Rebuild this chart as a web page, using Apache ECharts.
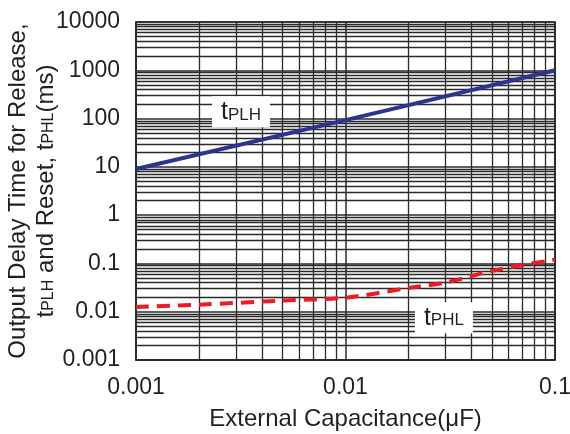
<!DOCTYPE html>
<html>
<head>
<meta charset="utf-8">
<script src="https://cdn.jsdelivr.net/npm/echarts@6/dist/echarts.min.js"></script>
<style>
  html, body { margin: 0; padding: 0; background: #fff; }
  #chart { width: 570px; height: 434px; }
</style>
</head>
<body>
<div id="chart"></div>
<script>
// values
var capacitance = [0.001, 0.01, 0.1];
var tPLH = [9, 93, 1000];

var capacitancePHL = [0.001, 0.002, 0.005, 0.01, 0.02, 0.03, 0.05, 0.1];
var tPHL = [0.0125, 0.014, 0.017, 0.0195, 0.031, 0.04, 0.07, 0.12];

var xTickLabels = ['0.001', '0.01', '0.1'];
var yTickLabels = ['0.001', '0.01', '0.1', '1', '10', '100', '1000', '10000'];

// log grid: decades and the 2..9 steps inside each one
var xDecades = [0.001, 0.01];
var yDecades = [0.001, 0.01, 0.1, 1, 10, 100, 1000];
var minorSteps = [2, 3, 4, 5, 6, 7, 8, 9];
var xRange = [0.001, 0.1];
var yRange = [0.001, 10000];

var font = 'Liberation Sans, Arial, sans-serif';
var ink = '#231f20';
var gridInk = '#2a2a2a';

function pairs(xs, ys) {
    var out = [];
    for (var i = 0; i < xs.length; i++) {
        out.push([xs[i], ys[i]]);
    }
    return out;
}

// minor grid lines as segments across the whole plot
function minorLines() {
    var lines = [];
    xDecades.forEach(function (d) {
        minorSteps.forEach(function (m) {
            var x = +(d * m).toPrecision(3);
            lines.push({ coords: [[x, yRange[0]], [x, yRange[1]]] });
        });
    });
    yDecades.forEach(function (d) {
        minorSteps.forEach(function (m) {
            var y = +(d * m).toPrecision(3);
            lines.push({ coords: [[xRange[0], y], [xRange[1], y]] });
        });
    });
    return lines;
}

function decadeLabel(labels, first) {
    return function (v) {
        var k = Math.round(Math.log10(v)) - first;
        return labels[k] || '';
    };
}

var subRich = {
    t: { fontSize: 25, fontFamily: font, color: ink },
    s: { fontSize: 17, fontFamily: font, color: ink, padding: [6, 0, 0, 0] }
};

var chart = echarts.init(document.getElementById('chart'));

chart.setOption({
    animation: false,
    backgroundColor: '#fff',
    grid: {
        left: 136, right: 15, top: 22, bottom: 74,
        outerBoundsMode: 'none',
        containLabel: false,
        show: true, borderColor: gridInk, borderWidth: 1.5
    },
    xAxis: {
        type: 'log', logBase: 10, min: xRange[0], max: xRange[1], interval: 1,
        axisLine: { show: true, lineStyle: { color: gridInk, width: 1.5 } },
        axisTick: { show: false },
        splitLine: { show: true, lineStyle: { color: gridInk, width: 1.5 } },
        axisLabel: {
            formatter: decadeLabel(xTickLabels, -3),
            fontSize: 23, fontFamily: font, color: ink, margin: 16
        },
        name: 'External Capacitance(\u03bcF)',
        nameLocation: 'middle', nameGap: 47, nameMoveOverlap: false,
        nameTextStyle: { fontSize: 24, fontFamily: font, color: ink }
    },
    yAxis: {
        type: 'log', logBase: 10, min: yRange[0], max: yRange[1], interval: 1,
        axisLine: { show: true, lineStyle: { color: gridInk, width: 1.5 } },
        axisTick: { show: false },
        splitLine: { show: true, lineStyle: { color: gridInk, width: 1.5 } },
        axisLabel: {
            formatter: decadeLabel(yTickLabels, -3),
            fontSize: 23, fontFamily: font, color: ink, margin: 16
        },
        name: '{n|Output Delay Time for Release,}\n{n|t}{s|PLH}{n| and Reset, t}{s|PHL}{n|(ms)}',
        nameLocation: 'middle', nameGap: 76, nameRotate: 90, nameMoveOverlap: false,
        nameTextStyle: {
            fontFamily: font, color: ink, lineHeight: 28,
            rich: {
                n: { fontSize: 24, fontFamily: font, color: ink, lineHeight: 28 },
                s: { fontSize: 16, fontFamily: font, color: ink, lineHeight: 28, padding: [6, 0, 0, 0] }
            }
        }
    },
    series: [
        {
            name: 'grid',
            type: 'lines',
            coordinateSystem: 'cartesian2d',
            silent: true,
            z: 1,
            lineStyle: { color: gridInk, width: 1.3, opacity: 1 },
            data: minorLines()
        },
        {
            name: 'tPLH',
            type: 'line',
            data: pairs(capacitance, tPLH),
            showSymbol: false,
            z: 5,
            lineStyle: { color: '#2b3590', width: 4 },
            markPoint: {
                symbol: 'circle', symbolSize: 0,
                label: {
                    show: true, position: 'inside',
                    formatter: '{t|t}{s|PLH}',
                    backgroundColor: '#fff', padding: [3, 9, 3, 9],
                    rich: subRich
                },
                data: [{ coord: [0.00317, 138] }]
            }
        },
        {
            name: 'tPHL',
            type: 'line',
            data: pairs(capacitancePHL, tPHL),
            showSymbol: false,
            smooth: 0.3,
            z: 5,
            lineStyle: { color: '#ed1c24', width: 4, type: [13, 8] },
            markPoint: {
                symbol: 'circle', symbolSize: 0,
                label: {
                    show: true, position: 'inside',
                    formatter: '{t|t}{s|PHL}',
                    backgroundColor: '#fff', padding: [3, 9, 3, 9],
                    rich: subRich
                },
                data: [{ coord: [0.0295, 0.0075] }]
            }
        }
    ]
});
</script>
</body>
</html>
